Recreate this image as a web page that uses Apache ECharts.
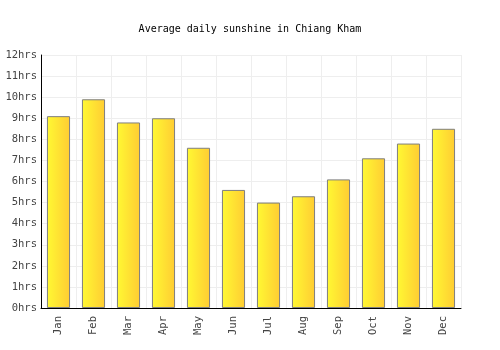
<!DOCTYPE html>
<html>
<head>
<meta charset="utf-8">
<script src="https://cdn.jsdelivr.net/npm/echarts@6/dist/echarts.min.js"></script>
<style>
  html, body { margin: 0; padding: 0; background: #fff; }
  #chart { width: 500px; height: 350px; }
</style>
</head>
<body>
<div id="chart"></div>
<script>
// data
const months = ['Jan', 'Feb', 'Mar', 'Apr', 'May', 'Jun', 'Jul', 'Aug', 'Sep', 'Oct', 'Nov', 'Dec'];
const sunshineHours = [9.1, 9.9, 8.8, 9.0, 7.6, 5.6, 5.0, 5.3, 6.1, 7.1, 7.8, 8.5];

const font = 'DejaVu Sans Mono, monospace';

var chart = echarts.init(document.getElementById('chart'), null, { renderer: 'canvas' });

var option = {
  animation: false,
  title: {
    text: 'Average daily sunshine in Chiang Kham',
    left: 'center',
    top: 19,
    textStyle: { fontFamily: font, fontSize: 10, fontWeight: 'normal', color: '#000' }
  },
  grid: { left: 41, right: 39, top: 55, bottom: 42 },
  xAxis: {
    type: 'category',
    data: months,
    axisLine: { lineStyle: { color: '#000' } },
    axisTick: { show: false },
    splitLine: { show: true, lineStyle: { color: '#eeeeee' } },
    axisLabel: {
      rotate: 90,
      interval: 0,
      fontFamily: font,
      fontSize: 10.5,
      color: '#444',
      margin: 8
    }
  },
  yAxis: {
    type: 'value',
    min: 0,
    max: 12,
    interval: 1,
    axisLine: { show: true, lineStyle: { color: '#000' } },
    axisTick: { show: false },
    splitLine: { lineStyle: { color: '#eeeeee' } },
    axisLabel: {
      formatter: '{value}hrs',
      fontFamily: font,
      fontSize: 10.5,
      color: '#444',
      margin: 4
    }
  },
  series: [
    {
      type: 'bar',
      data: sunshineHours,
      barWidth: '66%',
      itemStyle: {
        color: new echarts.graphic.LinearGradient(0, 0, 1, 0, [
          { offset: 0, color: '#fff933' },
          { offset: 1, color: '#ffcc33' }
        ]),
        borderColor: '#7f7f7f',
        borderWidth: 1
      }
    }
  ]
};

chart.setOption(option);
window.addEventListener('resize', chart.resize);
</script>
</body>
</html>
